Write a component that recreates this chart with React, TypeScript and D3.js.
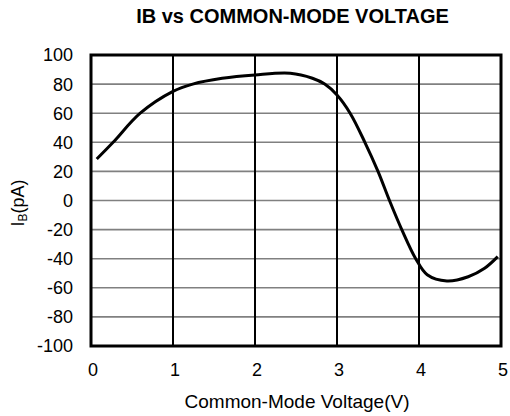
import React from "react";
import * as d3 from "d3";

const voltage = [0.07, 0.27, 0.6, 1.0, 1.24, 1.6, 2.0, 2.43, 2.7, 2.85, 3.0, 3.16, 3.34, 3.5, 3.64, 3.79, 3.96, 4.1, 4.34, 4.6, 4.8, 4.96];
const ibPa = [28.5, 40, 60, 75, 80, 84, 86.3, 87.4, 84, 80, 72.5, 60, 40, 20, 0, -20, -40, -51, -55.3, -52.4, -46.6, -38.6];
const xTicks = [0, 1, 2, 3, 4, 5];
const yTicks = [100, 80, 60, 40, 20, 0, -20, -40, -60, -80, -100];

const W = 510, H = 416;
const L = 91, R = 501, T = 55, B = 346;
const FONT = "'Liberation Sans', Arial, sans-serif";

export default function App() {
  const x = d3.scaleLinear().domain([0, 5]).range([L, R]);
  const y = d3.scaleLinear().domain([-100, 100]).range([B, T]);
  const pts = voltage.map((v, i) => [v, ibPa[i]] as [number, number]);
  const line = d3.line<[number, number]>().x(d => x(d[0])).y(d => y(d[1])).curve(d3.curveCatmullRom.alpha(0.5));

  return (
    <svg width={W} height={H} style={{ position: "absolute", left: 0, top: 0 }} fontFamily={FONT}>
      <rect x={0} y={0} width={W} height={H} fill="#fff" />
      <text x={292.5} y={23} textAnchor="middle" fontSize={20} fontWeight="bold" fill="#000">IB vs COMMON-MODE VOLTAGE</text>
      {yTicks.filter(t => t !== 100 && t !== -100).map(t => (
        <line key={"h" + t} x1={L} x2={R} y1={y(t)} y2={y(t)} stroke="#808080" strokeWidth={1.6} />
      ))}
      {xTicks.filter(t => t !== 0 && t !== 5).map(t => (
        <line key={"v" + t} x1={x(t)} x2={x(t)} y1={T} y2={B} stroke="#000" strokeWidth={2} />
      ))}
      <path d={line(pts) || ""} fill="none" stroke="#000" strokeWidth={3} />
      <rect x={L} y={T} width={R - L} height={B - T} fill="none" stroke="#000" strokeWidth={3} />
      {yTicks.map(t => (
        <text key={"yl" + t} x={73} y={y(t) + 6.4} textAnchor="end" fontSize={18} fill="#000">{t}</text>
      ))}
      {xTicks.map(t => (
        <text key={"xl" + t} x={x(t) + 2} y={376} textAnchor="middle" fontSize={18} fill="#000">{t}</text>
      ))}
      <text x={297} y={408} textAnchor="middle" fontSize={19} fill="#000">Common-Mode Voltage(V)</text>
      <text transform="translate(23.5,203) rotate(-90)" textAnchor="middle" fontSize={18} fill="#000">
        I<tspan fontSize={12} dy={3}>B</tspan><tspan dy={-3}>(pA)</tspan>
      </text>
    </svg>
  );
}
